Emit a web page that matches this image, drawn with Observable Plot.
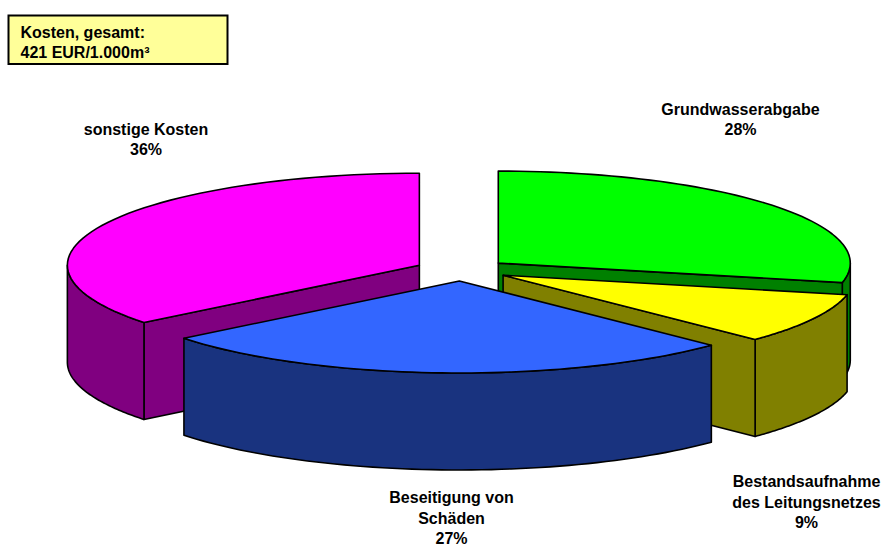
<!DOCTYPE html>
<html>
<head>
<meta charset="utf-8">
<script src="https://cdn.jsdelivr.net/npm/d3@7"></script>
<script src="https://cdn.jsdelivr.net/npm/@observablehq/plot@0.6"></script>
<style>html,body{margin:0;padding:0;background:#fff}svg{display:block}</style>
</head>
<body>
<div id="chart"></div>
<script>
// Data
const categories = ["Grundwasserabgabe", "Bestandsaufnahme\ndes Leitungsnetzes", "Beseitigung von\nSchäden", "sonstige Kosten"];
const shares = [28.4, 8.9, 27.0, 35.7];
const topColors = ["#00ff00", "#ffff00", "#3366ff", "#ff00ff"];
const sideColors = ["#008000", "#808000", "#19337f", "#800080"];
const totalLines = "Kosten, gesamt:\n421 EUR/1.000m³";

// 3D pie layout, in units of the ellipse's radii
const explodeX = 0.1335, explodeY = 0.1196, depth = 1.054;
const total = d3.sum(shares);
const ends = d3.cumsum(shares);
const slices = shares.map((v, i) => {
  const a0 = (ends[i] - v) / total * 2 * Math.PI;
  const a1 = ends[i] / total * 2 * Math.PI;
  const mid = (a0 + a1) / 2;
  return {a0, a1, cx: Math.sin(mid) * explodeX, cy: -Math.cos(mid) * explodeY, topFill: topColors[i], side: sideColors[i]};
});
const rim = (s, a) => ({x: s.cx + Math.sin(a), y: s.cy - Math.cos(a)});
const arc = (s, a0, a1) => d3.range(0, 61).map(k => rim(s, a0 + (a1 - a0) * k / 60));

const sheet = {width: 884, height: 545, xRange: [109.7, 813.7], yRange: [178, 362]};
const ux = px => (px - 109.7) / 352 - 1;
const uy = py => (py - 178) / 92 - 1;

const strokeOpts = {stroke: "black", strokeWidth: 1.6, strokeLinejoin: "round"};
const topFace = s => Plot.area(arc(s, s.a0, s.a1), {x1: "x", y1: "y", x2: () => s.cx, y2: () => s.cy, fill: s.topFill, ...strokeOpts});
const wall = (s, pts) => Plot.area(pts, {x1: "x", y1: "y", x2: "x", y2: d => d.y + depth, fill: s.side, ...strokeOpts});
const radial = (s, a) => wall(s, [{x: s.cx, y: s.cy}, rim(s, a)]);
const rimWall = (s, a0, a1) => wall(s, arc(s, a0, a1));

const [green, yellow, blue, magenta] = slices;
const halfPi = Math.PI / 2;

// Label anchors
const pct = d3.format(".0f");
const labels = [
  {text: `${categories[0]}\n${pct(shares[0])}%`, x: ux(740), y: uy(118)},
  {text: `${categories[1]}\n${pct(shares[1])}%`, x: ux(806), y: uy(500.5)},
  {text: `${categories[2]}\n${pct(shares[2])}%`, x: ux(451), y: uy(516.5)},
  {text: `${categories[3]}\n${pct(shares[3])}%`, x: ux(145.5), y: uy(138)}
];
const textOpts = {fontWeight: "bold", fontSize: 16, lineHeight: 1.27, fill: "black", stroke: "none"};

const plot = Plot.plot({
  width: sheet.width,
  height: sheet.height,
  margin: 0,
  style: {background: "#fff", fontFamily: "'Liberation Sans', Arial, sans-serif"},
  x: {domain: [-1, 1], range: sheet.xRange, axis: null},
  y: {domain: [-1, 1], range: sheet.yRange, axis: null},
  marks: [
    // sonstige Kosten
    radial(magenta, magenta.a0),
    rimWall(magenta, magenta.a0, 3 * halfPi),
    topFace(magenta),
    // Grundwasserabgabe
    rimWall(green, halfPi, green.a1),
    radial(green, green.a1),
    topFace(green),
    // Bestandsaufnahme
    rimWall(yellow, yellow.a0, yellow.a1),
    radial(yellow, yellow.a1),
    topFace(yellow),
    // Beseitigung von Schäden
    rimWall(blue, blue.a0, blue.a1),
    topFace(blue),
    // Total box
    Plot.rect([{}], {x1: () => ux(8.5), x2: () => ux(227.5), y1: () => uy(15.5), y2: () => uy(64), fill: "#ffff99", stroke: "black", strokeWidth: 2}),
    Plot.text([totalLines], {x: () => ux(20), y: () => uy(41), text: d => d, textAnchor: "start", ...textOpts}),
    Plot.text(labels, {x: "x", y: "y", text: "text", textAnchor: "middle", ...textOpts})
  ]
});
document.getElementById("chart").append(plot);
</script>
</body>
</html>
